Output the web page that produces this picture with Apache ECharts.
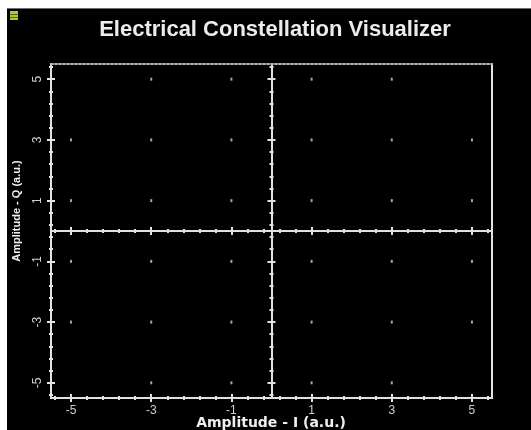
<!DOCTYPE html>
<html>
<head>
<meta charset="utf-8">
<script src="https://cdn.jsdelivr.net/npm/echarts@6/dist/echarts.min.js"></script>
<style>
  html, body { margin: 0; padding: 0; background: #fff; }
  #chart { width: 531px; height: 430px; }
</style>
</head>
<body>
<div id="chart"></div>
<script>
// 32-point cross constellation (I / Q pairs)
const iValues = [-3, -1, 1, 3,
                 -5, -3, -1, 1, 3, 5,
                 -5, -3, -1, 1, 3, 5,
                 -5, -3, -1, 1, 3, 5,
                 -5, -3, -1, 1, 3, 5,
                 -3, -1, 1, 3];
const qValues = [5, 5, 5, 5,
                 3, 3, 3, 3, 3, 3,
                 1, 1, 1, 1, 1, 1,
                 -1, -1, -1, -1, -1, -1,
                 -3, -3, -3, -3, -3, -3,
                 -5, -5, -5, -5];

// Axis range and tick positions
const axisMin = -5.5;
const axisMax = 5.5;
const majorTicks = [-5, -3, -1, 1, 3, 5];
const minorTicks = [-5.4, -5, -4.6, -4.2, -3.8, -3.4, -3, -2.6, -2.2, -1.8, -1.4, -1,
                    -0.6, -0.2, 0.2, 0.6, 1, 1.4, 1.8, 2.2, 2.6, 3, 3.4, 3.8, 4.2, 4.6, 5, 5.4];

const titleText = 'Electrical Constellation Visualizer';
const xName = 'Amplitude - I (a.u.)';
const yName = 'Amplitude - Q (a.u.)';

const lineColor = '#e2e2e2';
const textColor = '#cfcfcf';

// One axis layer: a line plus ticks on one side of it
function layer(position, onZero, ticks, len, inside, extra) {
  return Object.assign({
    type: 'value',
    position: position,
    min: axisMin,
    max: axisMax,
    splitLine: { show: false },
    axisLine: onZero
      ? { show: true, onZero: true, onZeroAxisIndex: 0, lineStyle: { color: lineColor, width: 2 } }
      : { show: true, onZero: false, lineStyle: { color: lineColor, width: 2 } },
    axisTick: ticks
      ? { show: true, customValues: ticks, length: len, inside: inside,
          lineStyle: { color: lineColor, width: 2 } }
      : { show: false },
    axisLabel: { show: false }
  }, extra || {});
}

// A line with ticks crossing it: minor ticks short, major ticks longer
function crossedLine(position, onZero, first) {
  return [
    layer(position, onZero, minorTicks, 2, false, first),
    layer(position, onZero, minorTicks, 2, true),
    layer(position, onZero, majorTicks, 4, false),
    layer(position, onZero, majorTicks, 4, true)
  ];
}

const tickLabel = {
  show: true,
  customValues: majorTicks,
  color: textColor,
  fontFamily: 'Liberation Sans, Arial, sans-serif',
  fontSize: 12
};

const points = iValues.map((v, k) => [v, qValues[k]]);

const xAxes = [].concat(
  crossedLine('bottom', false, { axisLabel: Object.assign({ margin: 7 }, tickLabel) }),
  crossedLine('bottom', true),
  [layer('top', false, null, 0, false, {
    axisLine: { show: true, onZero: false, lineStyle: { color: '#b5b5b5', width: 2, type: 'dotted' } }
  })]
);
const yAxes = [].concat(
  crossedLine('left', false, { axisLabel: Object.assign({ margin: 7, rotate: 90 }, tickLabel) }),
  crossedLine('left', true),
  [layer('right', false, null, 0, false)]
);

const chart = echarts.init(document.getElementById('chart'), null, { renderer: 'canvas' });
chart.setOption({
  animation: false,
  backgroundColor: '#000',
  grid: { left: 51, right: 39, top: 64, bottom: 32, containLabel: false },
  title: {
    text: titleText,
    left: 270,
    top: 14,
    textAlign: 'center',
    textStyle: { color: '#ececec', fontWeight: 'bold', fontSize: 22,
                 fontFamily: 'Liberation Sans, Arial, sans-serif' }
  },
  xAxis: xAxes,
  yAxis: yAxes,
  series: [{
    type: 'scatter',
    xAxisIndex: 0,
    yAxisIndex: 0,
    data: points,
    symbol: 'rect',
    symbolSize: [2, 3],
    itemStyle: { color: '#cfcfcf' },
    silent: true
  }],
  graphic: [
    // white page margins and grey frame edge
    { type: 'rect', left: 0, top: 0, shape: { width: 7, height: 430 }, style: { fill: '#fff' }, silent: true },
    { type: 'rect', left: 0, top: 0, shape: { width: 531, height: 8 }, style: { fill: '#fff' }, silent: true },
    { type: 'rect', left: 7, top: 8, shape: { width: 524, height: 1 }, style: { fill: '#6e6e6e' }, silent: true },
    // window icon
    { type: 'rect', left: 10, top: 11, shape: { width: 8, height: 9 }, style: { fill: '#b7c22a' }, silent: true },
    { type: 'rect', left: 10, top: 14, shape: { width: 8, height: 1 }, style: { fill: '#5d6416' }, silent: true },
    { type: 'rect', left: 10, top: 17, shape: { width: 8, height: 1 }, style: { fill: '#5d6416' }, silent: true },
    // axis titles
    { type: 'text', x: 271, y: 423, silent: true,
      style: { text: xName, fill: '#efefef', font: 'bold 14px "DejaVu Sans", sans-serif',
               textAlign: 'center', textVerticalAlign: 'middle' } },
    { type: 'text', x: 17, y: 211, rotation: Math.PI / 2, silent: true,
      style: { text: yName, fill: '#efefef', font: 'bold 11px "Liberation Sans", Arial, sans-serif',
               textAlign: 'center', textVerticalAlign: 'middle' } }
  ]
});
</script>
</body>
</html>
